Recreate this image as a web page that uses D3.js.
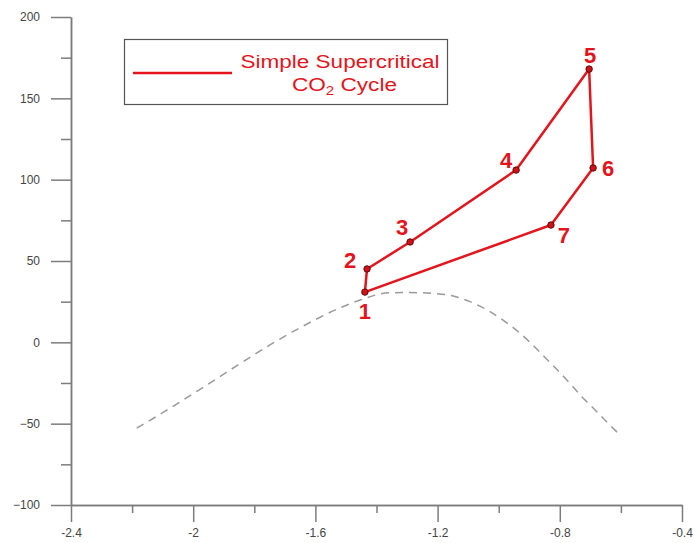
<!DOCTYPE html>
<html>
<head>
<meta charset="utf-8">
<script src="https://cdn.jsdelivr.net/npm/d3@7"></script>
<style>
body { margin: 0; background: #fff; }
text { font-family: "Liberation Sans", Arial, sans-serif; }
</style>
</head>
<body>
<svg id="chart" width="694" height="543"></svg>
<script>
// cycle state points (entropy-like x, temperature y)
var stateNames = ["1", "2", "3", "4", "5", "6", "7"];
var stateX = [-1.438, -1.431, -1.290, -0.943, -0.704, -0.691, -0.829];
var stateY = [30.9, 45.1, 61.7, 105.9, 168.0, 107.2, 72.1];

// saturation dome (dashed)
var domeX = [-2.185, -2.076, -1.967, -1.858, -1.749, -1.640, -1.530, -1.454, -1.356, -1.290, -1.214, -1.149, -1.094, -1.034, -0.979, -0.936, -0.892, -0.849, -0.810, -0.767, -0.728, -0.690, -0.647, -0.609];
var domeY = [-52.8, -40.5, -27.6, -14.5, -1.6, 10.0, 20.3, 26.0, 30.5, 30.6, 30.1, 28.5, 25.0, 19.5, 12.7, 6.5, -1.0, -9.2, -16.6, -25.2, -33.4, -40.5, -48.8, -55.9];

var xTickValues = [-2.4, -2, -1.6, -1.2, -0.8, -0.4];
var xMinorValues = [-2.2, -1.8, -1.4, -1.0, -0.6];
var yTickValues = [-100, -50, 0, 50, 100, 150, 200];
var yMinorValues = [-75, -25, 25, 75, 125, 175];

// label offsets from each point (layout only)
var labelShift = [[0, 19], [-17, -8], [-8, -14], [-10, -10], [1, -14], [15, 1], [13, 10]];

var svg = d3.select("#chart");
var red = "#e3141c";
var axisCol = "#7c7c7c";

var x = d3.scaleLinear().domain([-2.4, -0.4]).range([71, 682]);
var y = d3.scaleLinear().domain([-100, 200]).range([505, 17]);

function styleAxis(g) {
  g.selectAll("path, line").attr("stroke", axisCol).attr("stroke-width", 1.5);
  g.selectAll("text").attr("fill", "#444").attr("font-size", "12px");
}

// minor ticks first
svg.append("g")
  .attr("transform", "translate(71,0)")
  .call(d3.axisLeft(y).tickValues(yMinorValues).tickSize(10).tickSizeOuter(0).tickFormat(""))
  .call(styleAxis);
svg.append("g")
  .attr("transform", "translate(0,505)")
  .call(d3.axisBottom(x).tickValues(xMinorValues).tickSize(8).tickSizeOuter(0).tickFormat(""))
  .call(styleAxis);

// major ticks
svg.append("g")
  .attr("transform", "translate(71,0)")
  .call(d3.axisLeft(y).tickValues(yTickValues).tickSize(20).tickSizeOuter(0).tickPadding(11).tickFormat(d3.format("d")))
  .call(styleAxis);
svg.append("g")
  .attr("transform", "translate(0,505)")
  .call(d3.axisBottom(x).tickValues(xTickValues).tickSize(17).tickSizeOuter(0).tickPadding(6).tickFormat(function (d) { return String(d); }))
  .call(styleAxis);

// dome
var dome = domeX.map(function (d, i) { return [d, domeY[i]]; });
svg.append("path")
  .datum(dome)
  .attr("fill", "none")
  .attr("stroke", "#9a9a9a")
  .attr("stroke-width", 1.5)
  .attr("stroke-dasharray", "8,6")
  .attr("d", d3.line().x(function (d) { return x(d[0]); }).y(function (d) { return y(d[1]); }).curve(d3.curveMonotoneX));

// cycle
var pts = stateX.map(function (d, i) { return [d, stateY[i]]; });
svg.append("path")
  .datum(pts)
  .attr("fill", "none")
  .attr("stroke", red)
  .attr("stroke-width", 2.5)
  .attr("stroke-linejoin", "round")
  .attr("d", d3.line().x(function (d) { return x(d[0]); }).y(function (d) { return y(d[1]); }).curve(d3.curveLinearClosed));

svg.selectAll("circle.pt")
  .data(pts)
  .enter().append("circle")
  .attr("class", "pt")
  .attr("cx", function (d) { return x(d[0]); })
  .attr("cy", function (d) { return y(d[1]); })
  .attr("r", 3.2)
  .attr("fill", "#d40f17")
  .attr("stroke", "#5a0a0a")
  .attr("stroke-width", 1);

svg.selectAll("text.lbl")
  .data(pts)
  .enter().append("text")
  .attr("class", "lbl")
  .attr("x", function (d, i) { return x(d[0]) + labelShift[i][0]; })
  .attr("y", function (d, i) { return y(d[1]) + labelShift[i][1]; })
  .attr("text-anchor", "middle")
  .attr("dominant-baseline", "central")
  .attr("font-size", "22px")
  .attr("font-weight", "bold")
  .attr("fill", red)
  .text(function (d, i) { return stateNames[i]; });

// legend
var leg = svg.append("g");
leg.append("rect")
  .attr("x", 124.5).attr("y", 39.5)
  .attr("width", 323).attr("height", 65)
  .attr("fill", "#fff")
  .attr("stroke", "#555")
  .attr("stroke-width", 1.2);
leg.append("line")
  .attr("x1", 133).attr("x2", 232)
  .attr("y1", 73).attr("y2", 73)
  .attr("stroke", red).attr("stroke-width", 2.5);
leg.append("text")
  .attr("x", 340).attr("y", 68)
  .attr("text-anchor", "middle")
  .attr("font-size", "18px")
  .attr("fill", red)
  .attr("textLength", 199)
  .attr("lengthAdjust", "spacingAndGlyphs")
  .text("Simple Supercritical");
var t2 = leg.append("text")
  .attr("x", 292).attr("y", 91)
  .attr("font-size", "18px")
  .attr("fill", red)
  .attr("textLength", 105)
  .attr("lengthAdjust", "spacingAndGlyphs");
t2.append("tspan").text("CO");
t2.append("tspan").attr("font-size", "12px").attr("dy", 4).text("2");
t2.append("tspan").attr("dy", -4).text(" Cycle");
</script>
</body>
</html>
